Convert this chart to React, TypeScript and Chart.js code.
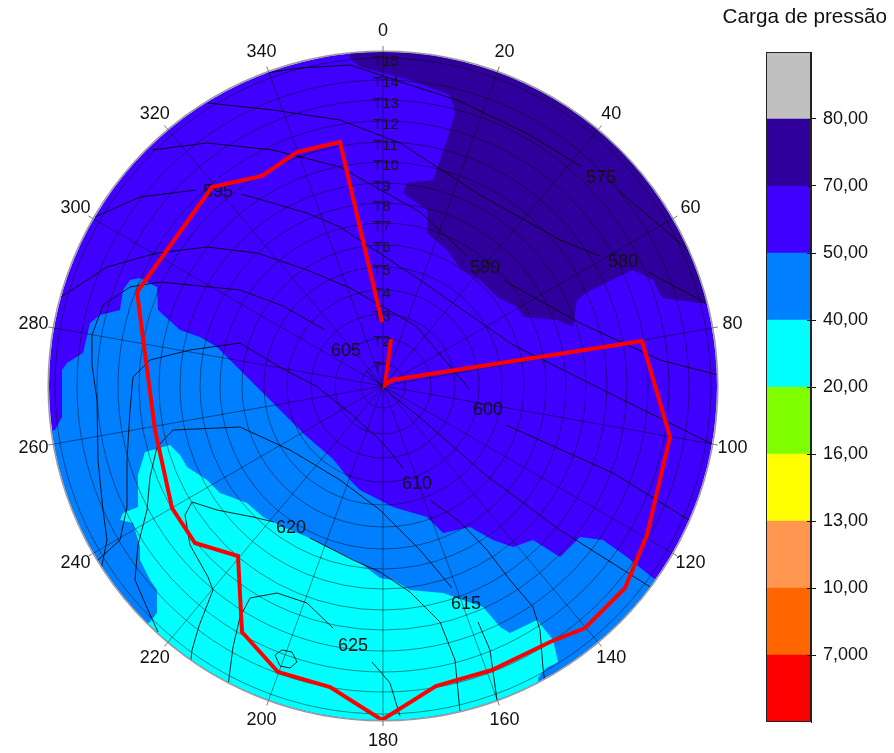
import React, { useEffect, useRef } from "react";
import { Chart, registerables } from "chart.js";

Chart.register(...registerables);

const FONT = "'Liberation Sans', Arial, sans-serif";

// map extent (units), angular and ring axes
const R_MAX = 33.4;
const ANGLE_TICKS = [0, 20, 40, 60, 80, 100, 120, 140, 160, 180, 200, 220, 240, 260, 280, 300, 320, 340];
const RING_LABELS = ["T1", "T2", "T3", "T4", "T5", "T6", "T7", "T8", "T9", "T10", "T11", "T12", "T13", "T14", "T15"];
const RING_RADII = [2.2, 4.8, 7.2, 9.6, 11.9, 14.1, 16.3, 18.3, 20.3, 22.4, 24.4, 26.5, 28.6, 30.6, 32.8];
const RING_LABEL_POS = [1.77, 4.43, 6.87, 9.2, 11.53, 13.8, 15.93, 17.93, 19.93, 22.03, 24.03, 26.1, 28.2, 30.27, 32.43];

// red traverse
const TRAJETO: [number, number][] = [
  [-0.1, 6.4], [-4.3, 24.4], [-8.6, 23.4], [-12.1, 21.0], [-17.1, 19.9], [-24.6, 9.4],
  [-22.8, -4.4], [-21.1, -12.2], [-18.8, -15.7], [-14.5, -17.0], [-14.1, -24.6], [-10.5, -28.6],
  [-5.3, -30.1], [-0.1, -33.4], [5.3, -30.0], [10.9, -28.4], [16.7, -25.6], [20.2, -24.2],
  [24.2, -20.2], [26.4, -14.9], [28.7, -5.1], [25.9, 4.5], [0.9, 0.6], [0.2, 0.1], [0.8, 4.7],
];

// filled zones (pressure head classes)
const ZONE_70_80: [number, number][] = [
  [-3.3, 36.6], [-3.3, 32.8], [-2.3, 31.9], [2.7, 30.6], [6.7, 29.1], [7.2, 27.3], [6.4, 24.6],
  [5.0, 20.6], [2.4, 20.3], [2.0, 19.3], [4.4, 17.6], [4.4, 15.3], [6.4, 13.6], [7.7, 11.8],
  [9.7, 10.6], [11.4, 8.9], [13.4, 7.9], [14.0, 6.9], [17.4, 6.6], [19.0, 5.9], [19.4, 8.6],
  [20.4, 9.4], [25.0, 11.6], [27.0, 10.6], [27.9, 8.8], [31.7, 8.3], [41.7, 8.3], [41.7, 36.6],
];
const ZONE_40_50: [number, number][] = [
  [-36.3, -4.6], [-32.8, -4.4], [-32.1, -3.1], [-32.1, 1.6], [-31.6, 2.3], [-30.0, 3.3], [-29.3, 6.3],
  [-28.3, 7.1], [-26.3, 7.6], [-26.0, 9.6], [-25.3, 10.6], [-24.3, 10.8], [-22.6, 9.9], [-22.5, 7.6],
  [-20.3, 5.6], [-18.3, 4.9], [-16.6, 3.9], [-15.3, 2.6], [-13.8, 1.1], [-11.8, -0.9], [-9.8, -2.9],
  [-7.8, -4.9], [-5.0, -7.3], [-3.3, -9.4], [-2.3, -10.4], [1.0, -12.1], [4.4, -13.1], [6.0, -14.7],
  [8.7, -14.1], [11.0, -15.4], [13.0, -16.1], [15.0, -15.4], [17.7, -17.1], [19.7, -15.1], [22.0, -15.4],
  [24.4, -17.1], [27.0, -19.2], [29.7, -20.4], [31.7, -37.4], [-36.3, -37.4],
];
const ZONE_20_40: [number, number][] = [
  [-26.0, -12.7], [-24.5, -12.1], [-24.5, -8.9], [-23.8, -6.6], [-21.3, -5.9], [-20.3, -6.9], [-19.6, -8.1],
  [-17.6, -9.4], [-16.3, -10.7], [-13.6, -11.7], [-12.0, -13.1], [-10.0, -14.1], [-7.6, -15.1], [-5.0, -16.4],
  [-2.3, -17.7], [-0.3, -19.2], [1.0, -19.4], [2.7, -20.4], [6.0, -20.7], [8.0, -21.4], [10.0, -22.1],
  [11.7, -24.1], [12.7, -24.7], [15.4, -23.4], [17.0, -25.4], [17.5, -27.6], [16.3, -28.2], [15.5, -29.2],
  [15.7, -31.4], [0, -37.4],
  [-26.3, -25.4], [-23.3, -23.6], [-22.6, -22.7], [-22.6, -20.4], [-23.3, -19.4], [-24.3, -17.4],
  [-24.3, -16.1], [-25.0, -13.7], [-26.3, -13.4],
];

// isolines (null = break for the label)
type P = [number, number] | null;
const ISO_575: P[] = [[-11.8, 31.3], [-8.3, 31.8], [-3.3, 32.1], [2.7, 30.1], [7.4, 28.6], [14.7, 25.1], [19.9, 21.9], null, [23.5, 19.6], [29.0, 14.9], [30.7, 13.4]];
const ISO_580: P[] = [[-17.5, 28.3], [-11.0, 27.6], [-4.3, 26.6], [1.7, 24.3], [9.7, 19.1], [17.7, 14.6], [21.7, 13.0], null, [26.5, 11.4], [31.7, 8.6], [33.3, 7.6]];
const ISO_590: P[] = [[-23.1, 23.6], [-17.6, 24.3], [-11.0, 23.6], [-4.3, 21.9], [3.7, 17.4], [8.4, 13.0], null, [12.0, 10.6], [19.7, 6.3], [27.7, 2.6], [33.5, 1.1]];
const ISO_595: P[] = [[-28.8, 16.9], [-24.3, 18.9], [-18.7, 19.6], null, [-14.2, 19.2], [-7.6, 17.3], [-4.3, 15.9], [3.7, 10.6], [13.0, 4.1], [24.0, -1.4], [33.1, -5.9]];
const ISO_600: P[] = [[-32.2, 8.9], [-27.6, 11.9], [-22.6, 13.3], [-17.6, 13.9], [-12.6, 13.3], [-7.6, 11.6], [-3.3, 9.8], [3.3, 6.0], [8.7, -0.4], null, [12.3, -3.9], [23.0, -8.7], [32.2, -14.4]];
const ISO_605: P[] = [[-28.3, -18.9], [-27.6, -15.4], [-28.0, -12.4], [-28.5, -7.4], [-28.6, -1.4], [-29.1, 2.1], [-29.1, 5.1], [-28.0, 8.1], [-25.3, 9.9], [-22.3, 10.4], [-14.3, 9.6], [-10.0, 8.0], [-5.8, 5.6], null, [-1.8, 1.6], [1.0, -1.0], [4.0, -3.4], [10.0, -8.7], [17.7, -14.4], [27.2, -20.4]];
const ISO_610: P[] = [[-28.5, -17.4], [-26.3, -15.4], [-25.6, -12.1], [-25.6, -7.4], [-25.3, -2.4], [-25.0, 0.9], [-23.3, 2.6], [-19.3, 3.6], [-14.3, 4.3], [-10.0, 1.7], [-6.7, 0.0], [-3.3, -2.7], [0.0, -5.7], [2.0, -8.2], null, [4.7, -11.4], [7.7, -13.6], [10.4, -16.4], [12.7, -19.4], [15.0, -22.1], [15.7, -24.4], [16.0, -28.2], [16.2, -29.8]];
const ISO_615: P[] = [[-22.5, -24.6], [-23.5, -22.4], [-24.8, -19.4], [-24.5, -15.9], [-23.6, -12.4], [-23.3, -9.1], [-22.6, -6.1], [-21.0, -4.4], [-14.3, -4.1], [-9.3, -6.4], [-4.3, -9.4], [-0.3, -12.4], [3.7, -16.4], [6.9, -20.2], null, [9.5, -23.6], [10.7, -26.4], [11.4, -31.4], [11.7, -33.2]];
const ISO_620: P[] = [[-19.3, -28.2], [-19.1, -26.4], [-18.4, -24.0], [-17.0, -20.4], [-17.5, -19.1], [-19.3, -15.9], [-19.8, -12.9], [-19.1, -11.6], [-16.6, -12.4], [-13.0, -13.1], [-10.9, -13.6], null, [-7.3, -15.2], [-3.0, -17.4], [-0.3, -18.6], [2.7, -20.6], [5.7, -23.6], [7.2, -27.4], [7.7, -32.6]];
const ISO_625: P[] = [[-15.5, -30.0], [-15.0, -26.1], [-14.3, -23.1], [-13.3, -21.2], [-10.6, -20.7], [-7.6, -21.7], [-5.0, -24.2], null, [-1.1, -27.6], [0.7, -29.7], [1.7, -33.0]];
const ISO_630: P[] = [[-10.8, -26.9], [-10.1, -26.4], [-9.1, -26.6], [-8.6, -27.6], [-9.3, -28.2], [-10.3, -28.0], [-10.8, -26.9]];
const ISOLINES = [ISO_575, ISO_580, ISO_590, ISO_595, ISO_600, ISO_605, ISO_610, ISO_615, ISO_620, ISO_625, ISO_630];

const ISO_LABELS: [string, number, number][] = [
  ["575", 21.8, 20.8], ["580", 24.0, 12.4], ["590", 10.2, 11.8], ["595", -16.5, 19.4], ["600", 10.5, -2.4],
  ["605", -3.7, 3.5], ["610", 3.4, -9.8], ["615", 8.3, -21.8], ["620", -9.2, -14.2], ["625", -3.0, -26.0],
];

// colour scale legend
const LEGEND_LEVELS = ["7,000", "10,00", "13,00", "16,00", "20,00", "40,00", "50,00", "70,00", "80,00"];
const LEGEND_COLORS = ["#ff0000", "#ff6600", "#ff9650", "#ffff00", "#80ff00", "#00ffff", "#0080ff", "#4000ff", "#30009c", "#c0c0c0"];
const LEGEND_BANDS = [1, 1, 1, 1, 1, 1, 1, 1, 1, 1];

const C_50_70 = "#4000ff";
const C_70_80 = "#30009c";
const C_40_50 = "#0080ff";
const C_20_40 = "#00ffff";

const toXY = (pts: P[]) => pts.map((p) => (p ? { x: p[0], y: p[1] } : { x: null, y: null }));

const polarPlugin = {
  id: "polarFrame",
  beforeDatasetsDraw(chart: any) {
    const { ctx, scales } = chart;
    const cx = scales.x.getPixelForValue(0);
    const cy = scales.y.getPixelForValue(0);
    const rp = scales.x.getPixelForValue(R_MAX) - cx;
    ctx.save();
    ctx.beginPath();
    ctx.arc(cx, cy, rp, 0, Math.PI * 2);
    ctx.clip();
    ctx.fillStyle = C_50_70;
    ctx.fillRect(cx - rp, cy - rp, rp * 2, rp * 2);
  },
  afterDatasetDraw(chart: any, args: any) {
    if (chart.data.datasets[args.index].label !== "20-40") return;
    const { ctx, scales } = chart;
    const cx = scales.x.getPixelForValue(0);
    const cy = scales.y.getPixelForValue(0);
    const rp = scales.x.getPixelForValue(R_MAX) - cx;
    ctx.save();
    ctx.strokeStyle = "rgba(0,0,0,0.45)";
    ctx.lineWidth = 1;
    for (const r of RING_RADII) {
      const pr = scales.x.getPixelForValue(r) - cx;
      ctx.beginPath();
      ctx.arc(cx, cy, pr, 0, Math.PI * 2);
      ctx.stroke();
    }
    for (const a of ANGLE_TICKS) {
      const t = (a * Math.PI) / 180;
      ctx.beginPath();
      ctx.moveTo(cx, cy);
      ctx.lineTo(cx + rp * Math.sin(t), cy - rp * Math.cos(t));
      ctx.stroke();
    }
    ctx.restore();
  },
  beforeDatasetDraw(chart: any, args: any) {
    if (chart.data.datasets[args.index].label !== "trajeto") return;
    const { ctx, scales } = chart;
    ctx.save();
    ctx.fillStyle = "#141414";
    ctx.textBaseline = "middle";
    ctx.font = `15px ${FONT}`;
    ctx.textAlign = "left";
    RING_LABELS.forEach((t, i) => {
      ctx.fillText(t, scales.x.getPixelForValue(-1.0), scales.y.getPixelForValue(RING_LABEL_POS[i]));
    });
    ctx.font = `18px ${FONT}`;
    ctx.textAlign = "center";
    ctx.fillStyle = "#111";
    for (const [t, x, y] of ISO_LABELS) {
      ctx.fillText(t, scales.x.getPixelForValue(x), scales.y.getPixelForValue(y));
    }
    ctx.restore();
  },
  afterDatasetsDraw(chart: any) {
    const { ctx, scales } = chart;
    ctx.restore();
    const cx = scales.x.getPixelForValue(0);
    const cy = scales.y.getPixelForValue(0);
    const rp = scales.x.getPixelForValue(R_MAX) - cx;
    ctx.save();
    ctx.strokeStyle = "#9a9a9a";
    ctx.lineWidth = 1.5;
    ctx.beginPath();
    ctx.arc(cx, cy, rp + 0.8, 0, Math.PI * 2);
    ctx.stroke();
    ctx.lineWidth = 1;
    ctx.strokeStyle = "#7a7a7a";
    for (const a of ANGLE_TICKS) {
      const t = (a * Math.PI) / 180;
      ctx.beginPath();
      ctx.moveTo(cx + rp * Math.sin(t), cy - rp * Math.cos(t));
      ctx.lineTo(cx + (rp + 6) * Math.sin(t), cy - (rp + 6) * Math.cos(t));
      ctx.stroke();
    }
    ctx.fillStyle = "#111";
    ctx.font = `18px ${FONT}`;
    ctx.textAlign = "center";
    ctx.textBaseline = "middle";
    const lr = rp + 21;
    for (const a of ANGLE_TICKS) {
      const t = (a * Math.PI) / 180;
      ctx.fillText(String(a), cx + lr * Math.sin(t), cy - lr * Math.cos(t));
    }
    ctx.restore();
  },
};

const legendPlugin = {
  id: "legendFrame",
  afterDatasetsDraw(chart: any) {
    const { ctx, chartArea, scales } = chart;
    ctx.save();
    ctx.strokeStyle = "#222";
    ctx.lineWidth = 1;
    ctx.strokeRect(chartArea.left + 0.5, chartArea.top + 0.5, chartArea.right - chartArea.left - 1, chartArea.bottom - chartArea.top - 1);
    ctx.strokeStyle = "#111";
    LEGEND_LEVELS.forEach((_, i) => {
      const py = Math.round(scales.y.getPixelForValue(i + 1)) + 0.5;
      ctx.beginPath();
      ctx.moveTo(chartArea.right - 4, py);
      ctx.lineTo(chartArea.right, py);
      ctx.stroke();
    });
    ctx.fillStyle = "#111";
    ctx.font = `20.7px ${FONT}`;
    ctx.textAlign = "right";
    ctx.textBaseline = "middle";
    ctx.fillText("Carga de pressão", chart.width - 7, 17);
    ctx.restore();
  },
};

export default function App() {
  const mapRef = useRef<HTMLCanvasElement | null>(null);
  const barRef = useRef<HTMLCanvasElement | null>(null);

  useEffect(() => {
    if (!mapRef.current || !barRef.current) return;
    const zone = (label: string, pts: [number, number][], color: string, order: number) => ({
      label,
      data: toXY(pts),
      showLine: true,
      fill: "shape",
      backgroundColor: color,
      borderColor: "rgba(0,0,0,0)",
      borderWidth: 0,
      pointRadius: 0,
      order,
    });
    const isoSets = ISOLINES.map((pts, i) => ({
      label: "iso" + i,
      data: toXY(pts),
      showLine: true,
      fill: false,
      borderColor: "rgba(0,0,0,0.85)",
      borderWidth: 1,
      pointRadius: 0,
      spanGaps: false,
      order: 1,
    }));
    const map = new Chart(mapRef.current, {
      type: "scatter",
      data: {
        datasets: [
          {
            label: "trajeto",
            data: toXY(TRAJETO),
            showLine: true,
            fill: false,
            borderColor: "#ff0000",
            borderWidth: 4,
            borderJoinStyle: "miter",
            pointRadius: 0,
            order: 0,
          },
          ...isoSets,
          zone("20-40", ZONE_20_40, C_20_40, 2),
          zone("40-50", ZONE_40_50, C_40_50, 3),
          zone("70-80", ZONE_70_80, C_70_80, 4),
        ] as any,
      },
      options: {
        animation: false,
        responsive: false,
        events: [],
        layout: { padding: { left: 49, right: 177, top: 52, bottom: 33 } },
        scales: {
          x: { type: "linear", min: -R_MAX, max: R_MAX, display: false },
          y: { type: "linear", min: -R_MAX, max: R_MAX, display: false },
        },
        plugins: { legend: { display: false }, tooltip: { enabled: false } },
      } as any,
      plugins: [polarPlugin],
    });

    const bar = new Chart(barRef.current, {
      type: "bar",
      data: {
        labels: ["Carga de pressão"],
        datasets: LEGEND_COLORS.map((c, i) => ({
          label: i < LEGEND_LEVELS.length ? LEGEND_LEVELS[i] : ">80",
          data: [LEGEND_BANDS[i]],
          backgroundColor: c,
          borderWidth: 0,
          stack: "s",
          barPercentage: 1,
          categoryPercentage: 1,
        })),
      },
      options: {
        animation: false,
        responsive: false,
        events: [],
        layout: { padding: { left: 766, right: 0, top: 52, bottom: 31 } },
        scales: {
          x: { display: false, stacked: true },
          y: {
            stacked: true,
            min: 0,
            max: 10,
            position: "right",
            afterBuildTicks: (s: any) => {
              s.ticks = LEGEND_LEVELS.map((_, i) => ({ value: i + 1 }));
            },
            afterFit: (s: any) => {
              s.width = 83;
            },
            ticks: {
              callback: (_v: any, i: number) => LEGEND_LEVELS[i],
              font: { size: 18, family: FONT },
              color: "#111",
              padding: 7,
              autoSkip: false,
            },
            grid: { drawOnChartArea: false, tickLength: 5, color: "#111" },
            border: { display: true, color: "#222" },
          },
        },
        plugins: { legend: { display: false }, tooltip: { enabled: false } },
      } as any,
      plugins: [legendPlugin],
    });

    return () => {
      map.destroy();
      bar.destroy();
    };
  }, []);

  return (
    <div style={{ position: "absolute", left: 0, top: 0, width: 894, height: 753, background: "#fff" }}>
      <canvas ref={mapRef} width={894} height={753} style={{ position: "absolute", left: 0, top: 0 }} />
      <canvas ref={barRef} width={894} height={753} style={{ position: "absolute", left: 0, top: 0 }} />
    </div>
  );
}
